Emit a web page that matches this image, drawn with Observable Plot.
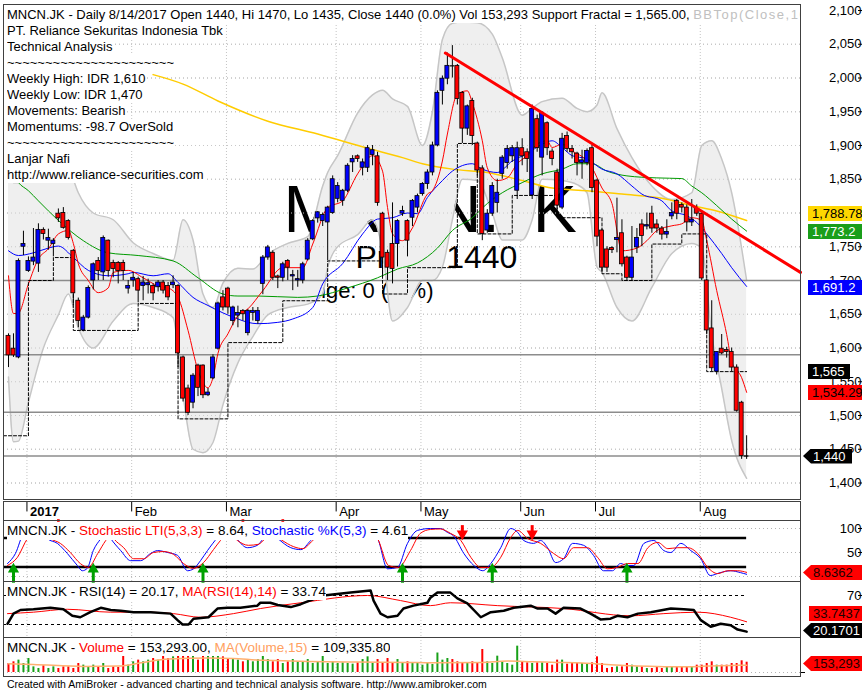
<!DOCTYPE html>
<html>
<head>
<meta charset="utf-8">
<script src="https://cdn.jsdelivr.net/npm/d3@7"></script>
<script src="https://cdn.jsdelivr.net/npm/@observablehq/plot@0.6"></script>
<style>
html,body{margin:0;padding:0;background:#fff;}
#wrap{position:relative;width:862px;height:693px;overflow:hidden;background:#fff;font-family:"Liberation Sans",Arial,Helvetica,sans-serif;color:#000;}
.t{position:absolute;left:7px;font-size:13px;line-height:16px;height:16px;background:#fff;white-space:nowrap;overflow:hidden;}
.tag{position:absolute;font-size:13px;line-height:15px;height:15px;white-space:nowrap;overflow:hidden;box-sizing:border-box;}
</style>
</head>
<body>
<div id="wrap"></div>
<script>
// ---------------- DATA ----------------
// bar index 0..148 : 27 Dec 2016 .. 14 Aug 2017 (daily)
const open  = [1618,1599,1586,1750,1714,1728,1725,1775,1759,1754,1799,1800,1788,1744,1670,1626,1645,1700,1729,1712,1759,1726,1726,1726,1688,1700,1702,1692,1693,1692,1690,1697,1692,1693,1692,1586,1540,1519,1574,1574,1530,1555,1599,1675,1688,1640,1648,1655,1622,1652,1640,1695,1734,1741,1706,1704,1729,1706,1700,1700,1731,1761,1792,1788,1786,1800,1821,1818,1833,1875,1884,1867,1867,1886,1884,1799,1741,1754,1754,1799,1788,1793,1808,1828,1843,1860,1900,1981,1999,2018,2018,1978,1925,1966,1903,1866,1774,1799,1815,1858,1874,1884,1833,1896,1890,1826,1939,1882,1933,1891,1860,1808,1914,1895,1888,1874,1874,1896,1848,1774,1746,1748,1760,1770,1734,1704,1749,1783,1780,1799,1783,1777,1768,1795,1818,1812,1808,1786,1806,1799,1700,1629,1565,1599,1597,1594,1571,1519,1440];
const high  = [1621,1621,1732,1773,1735,1777,1784,1778,1776,1762,1806,1808,1790,1746,1674,1648,1692,1726,1734,1766,1760,1730,1728,1730,1700,1712,1705,1706,1702,1695,1700,1700,1697,1707,1694,1588,1545,1562,1576,1575,1540,1590,1668,1685,1690,1662,1662,1657,1657,1660,1660,1737,1752,1744,1708,1727,1731,1715,1715,1727,1762,1790,1802,1800,1810,1855,1845,1835,1873,1885,1886,1880,1900,1900,1890,1801,1745,1815,1790,1810,1790,1820,1828,1845,1864,1905,1981,2003,2037,2048,2020,1980,1960,1970,1905,1870,1805,1845,1850,1885,1900,1900,1905,1910,1895,1960,1945,1950,1935,1895,1865,1918,1920,1900,1890,1893,1895,1900,1850,1776,1750,1750,1822,1790,1736,1780,1777,1790,1800,1810,1790,1780,1790,1815,1820,1815,1812,1820,1812,1803,1702,1670,1594,1620,1601,1600,1575,1521,1470];
const low   = [1571,1586,1584,1737,1712,1722,1712,1760,1745,1735,1786,1776,1760,1663,1630,1624,1643,1686,1700,1700,1705,1704,1695,1700,1680,1690,1667,1670,1680,1670,1683,1680,1670,1688,1571,1520,1500,1510,1528,1525,1528,1553,1597,1655,1650,1633,1630,1640,1618,1640,1635,1679,1730,1700,1688,1698,1700,1685,1690,1695,1729,1759,1785,1780,1729,1798,1815,1810,1830,1860,1875,1855,1860,1870,1810,1705,1700,1695,1720,1795,1735,1780,1800,1825,1835,1855,1898,1960,1990,2000,1960,1903,1915,1900,1855,1759,1770,1795,1800,1850,1865,1875,1820,1870,1860,1820,1890,1855,1885,1870,1805,1805,1890,1880,1855,1850,1870,1830,1750,1712,1712,1740,1741,1720,1700,1700,1740,1750,1775,1770,1770,1760,1762,1790,1790,1800,1772,1780,1795,1700,1620,1565,1560,1590,1585,1565,1505,1435,1435];
const close = [1589,1589,1729,1754,1729,1734,1775,1769,1763,1759,1792,1778,1763,1681,1640,1645,1689,1724,1714,1763,1714,1717,1714,1714,1692,1704,1685,1697,1696,1681,1697,1685,1675,1697,1592,1525,1504,1559,1541,1530,1534,1586,1666,1660,1660,1660,1652,1650,1655,1655,1655,1734,1749,1704,1704,1724,1719,1708,1702,1724,1759,1788,1801,1797,1808,1850,1840,1833,1870,1880,1880,1875,1896,1893,1815,1734,1719,1717,1788,1803,1759,1818,1825,1843,1860,1900,1978,1999,2018,2018,1969,1925,1958,1914,1863,1769,1799,1840,1830,1882,1895,1896,1896,1884,1880,1954,1896,1948,1896,1880,1811,1910,1895,1890,1874,1878,1892,1837,1765,1719,1719,1745,1763,1724,1704,1734,1763,1766,1782,1777,1777,1768,1772,1800,1799,1808,1786,1790,1799,1703,1626,1570,1594,1592,1594,1571,1507,1440,1440];
const volume = [134,159,184,134,208,84,60,100,60,84,60,84,84,60,134,110,84,110,84,134,60,84,75,240,
  109,159,184,159,184,208,184,243,208,233,243,258,273,258,184,243,258,258,243,233,208,193,184,159,193,159,193,243,193,159,193,134,159,193,159,159,193,134,159,258,134,159,134,144,134,124,144,193,233,134,193,134,208,134,193,134,159,134,144,109,134,120,
  290,184,208,193,159,144,134,159,134,342,159,134,243,159,134,109,392,159,144,134,144,144,134,109,184,184,124,144,134,134,134,144,233,134,60,75,84,84,134,109,84,84,60,60,84,60,84,84,84,84,84,84,109,109,134,159,109,109,109,134,134,174,153.293]; // thousands

const monthLabels = ["2017","Feb","Mar","Apr","May","Jun","Jul","Aug"];
const monthIdx    = [4,25,44,66,83,103,118,139];
const eventIdx    = [10,47,55];

const priceTicks = [1400,1450,1500,1550,1600,1650,1700,1750,1800,1850,1900,1950,2000,2050,2100];
const hLevels = [1700,1590,1505,1440];

const bbIdx   = [0,1,2,4,7,10,12,14,17,21,25,29,33,35,37,39,41,43,46,49,52,56,60,63,64,66,70,73,75,77,80,83,85,87,89,91,94,97,99,103,105,107,111,114,116,118,119,122,125,129,133,137,139,141,143,145,148];
const bbUpper = [1857,1845,1845,1870,1880,1889,1870,1830,1800,1790,1756,1740,1730,1790,1760,1680,1660,1696,1718,1717,1739,1755,1765,1840,1860,1885,1948,1975,1982,1969,1958,1900,1950,2057,2081,2083,2082,2065,2030,1945,1955,1965,1970,1955,1950,1960,1978,1925,1882,1840,1820,1830,1900,1907,1880,1830,1700];
const bbLower = [1557,1461,1462,1520,1600,1649,1680,1630,1600,1640,1666,1660,1645,1530,1450,1445,1460,1516,1578,1617,1649,1660,1665,1680,1720,1750,1768,1790,1745,1640,1660,1700,1700,1720,1790,1850,1848,1800,1760,1760,1790,1850,1848,1842,1830,1720,1712,1660,1640,1690,1740,1755,1748,1620,1540,1463,1407];

const maRedIdx = [0,1,2,4,6,8,10,12,13,14,16,18,20,21,24,27,30,32,34,36,38,40,41,42,44,46,48,51,55,59,61,64,67,70,73,75,76,77,79,81,84,85,87,88,90,92,93,95,96,98,100,102,104,106,108,109,111,113,116,117,119,121,123,126,128,130,133,135,137,139,140,142,144,145,147,148];
const maRedVal = [1707,1651,1652,1695,1732,1747,1769,1774,1755,1725,1700,1682,1689,1712,1715,1704,1692,1689,1675,1626,1567,1541,1556,1592,1621,1648,1658,1685,1719,1719,1754,1808,1818,1858,1885,1862,1808,1769,1759,1778,1828,1833,1877,1917,1976,1981,1963,1907,1867,1848,1852,1873,1885,1902,1907,1897,1902,1892,1877,1867,1837,1814,1744,1748,1759,1774,1781,1784,1793,1789,1759,1685,1620,1580,1556,1534.29];
const maBlueIdx = [0,2,5,8,10,13,16,20,24,25,29,32,34,37,40,43,46,48,50,54,57,61,63,67,71,74,77,80,82,84,87,89,93,95,98,101,104,107,109,111,113,116,119,122,125,127,131,133,136,138,140,143,145,148];
const maBlueVal = [1744,1737,1741,1748,1751,1734,1715,1707,1710,1712,1707,1710,1697,1675,1663,1652,1643,1638,1636,1638,1643,1660,1695,1725,1769,1791,1793,1800,1799,1823,1848,1862,1873,1865,1860,1877,1888,1902,1907,1897,1885,1880,1865,1858,1840,1828,1818,1803,1796,1786,1769,1740,1719,1691.2];
const maGreenIdx = [0,2,4,6,10,15,20,26,33,38,43,46,50,58,62,68,74,78,82,86,89,93,96,99,103,107,111,114,117,120,124,130,135,137,139,142,145,148];
const maGreenVal = [1870,1845,1833,1818,1789,1759,1741,1737,1729,1704,1680,1677,1677,1675,1677,1689,1704,1717,1726,1748,1774,1793,1814,1830,1845,1858,1865,1873,1873,1862,1855,1852,1851,1840,1830,1811,1791,1773.2];
const maYellowIdx = [29,35,42,52,62,72,79,83,89,96,103,109,116,123,131,137,142,148];
const maYellowVal = [2005,1991,1966,1936,1917,1896,1882,1873,1865,1860,1848,1837,1833,1828,1822,1811,1803,1788.78];

const fracIdx = [-1,4,9,13,26,34,44,55,64,75,80,90,94,101,110,119,123,129,135,140,148];
const fracVal = [1470,1700,1734,1626,1666,1495,1608,1670,1729,1680,1719,1903,1769,1826,1793,1710,1700,1754,1769,1565,1565];

const trendIdx = [87.6,158.8];
const trendVal = [2037,1712];

const stochKIdx = [-0.2,1.4,3,4.4,6.4,7.8,9.8,11.8,13.8,14.8,15.8,17,18.5,19.5,20.5,22.5,24.5,26.5,28.5,29.9,31.9,33.9,35.9,37.1,38.5,39.9,41.9,43.5,44.9,45.9,47.9,49.9,51.1,52.5,54,56.6,58.6,60.6,62.2,64.6,68.6,71.6,74,76,78,80,82,84.6,86.6,88,89.2,91.3,93.3,95.1,96.7,98.7,100.7,102.1,103.3,105.3,106.7,108.1,109.7,111.3,113.1,115.3,117.3,119.3,121.1,122.7,124.1,125.4,127.4,129.4,131.4,132.8,134.8,136.8,138.8,140.7,142.7,144.8,146.8,148];
const stochKVal = [27,48,90,100,98,79,69,48,23,12,17,54,79,95,79,54,33,33,48,54,50,44,12,16,33,54,81,98,90,77,60,65,79,92,79,60,56,75,92,100,100,98,79,16,19,69,96,100,100,92,85,48,23,12,27,60,100,92,75,69,75,60,29,37,69,65,44,12,12,27,23,23,69,75,54,50,69,54,37,2,8,12,8,4.61];
const stochLIdx = [-0.2,1.8,3.8,5.4,7,8.4,10.4,12.4,14.4,16,17.9,19.5,20.5,21.1,23.1,25.1,27.1,29.1,31.1,33.1,35.1,37.1,39.1,41.1,42.5,44.1,45.9,48.1,50.1,51.5,53,54.6,57.2,59,61,62.6,65.6,70.6,73,74,76.2,78.2,80.6,82.6,84.6,86.6,88.6,90.7,92.7,94.7,96.7,98.7,100.7,102.1,104.1,106.7,109.3,111.3,113.3,116.1,118.1,120.1,122.1,124.1,126.2,128.2,130.2,132.2,134.2,136.2,138.2,140.2,142.2,144.2,146.2,148];
const stochLVal = [23,40,79,95,92,79,69,50,27,19,48,75,88,79,60,37,37,50,52,46,27,17,29,56,75,92,75,65,67,79,88,77,62,58,75,90,99,99,92,79,23,19,54,90,98,99,90,75,40,19,19,40,81,96,79,69,48,37,60,60,40,16,19,27,27,60,71,58,60,60,48,19,6,12,12,8.64];
const buyIdx  = [1,17,39,79,97,124];
const sellIdx = [91,105];

const rsiIdx = [-0.2,1,2.4,5,8.4,11,12.8,14.4,16.4,18.5,20.5,22.5,25.1,28.5,32.5,33.9,34.9,36.1,37.1,40.1,41.9,43.9,46.5,49.9,50.5,52.5,54,56.6,58.6,60,63.2,68.6,72.6,73.2,74.6,76,78,79.2,81.2,84,84.6,86,88.6,90,92,94.7,96.7,99.3,101.3,104.7,106.1,108.1,109.7,111.3,114.7,116.7,118.7,120.7,122.1,124.1,126.2,128.8,132.8,135.4,137.4,138.8,140.8,142.8,144.8,146.2,148];
const rsiVal = [31,45,50,51,53,51,42,40,47,53,50,49,47,47,45,36,30,30,38,40,52,53,53,56,60,60,57,54,58,62,70,74,77,63,45,40,42,52,56,60,67,74,74,66,59,40,47,49,53,56,52,52,45,53,52,45,37,38,42,40,45,47,52,51,50,36,27,31,29,23,20.17];
const rsiMAIdx = [-0.2,5,11.8,20.5,28.5,33.1,38.5,45.1,50.5,58.6,72,78.6,84.6,88.6,98.1,111.3,124.7,131.4,138.2,144.8,148];
const rsiMAVal = [45,47,51,47,47,45,40,45,52,60,70,63,56,60,56,52,42,45,47,40,33.74];

const volMAIdx = [0,5,15,22,27,32,40,45,50,55,60,70,80,85,95,100,105,110,115,120,125,130,135,140,145,148];
const volMAVal = [130,120,90,95,150,200,215,210,185,175,165,155,150,145,150,170,160,150,140,120,100,90,85,95,105,109.3];

// ---------------- DRAWING ----------------
const wrap = document.getElementById("wrap");
const FONT = '"Liberation Sans", Arial, Helvetica, sans-serif';
const xOpt = () => ({domain: [-1, 158.8], range: [3, 800], axis: null});
const baseStyle = {fontFamily: FONT, fontSize: "13px", background: "transparent", color: "#000", overflow: "visible"};
function place(svg, top) { svg.style.position = "absolute"; svg.style.top = top + "px"; svg.style.left = "0px"; wrap.appendChild(svg); }
const pts = (idx, vals) => idx.map((x, k) => ({x, y: vals[k]}));

const bars = open.map((o, i) => ({i, o, h: high[i], l: low[i], c: close[i], v: volume[i]}));
const bodies = bars.filter(d => d.c !== d.o);
const dojis = bars.filter(d => d.c === d.o);
const bb = bbIdx.map((x, k) => ({x, lo: bbLower[k], hi: bbUpper[k]}));
const months = monthIdx.map((x, k) => ({x: x - 0.3, label: monthLabels[k]}));
const monthGrid = () => Plot.ruleX(months, {x: "x", stroke: "#c4c4c4", strokeDasharray: "1,2"});
const rightAxis = (ticks) => Plot.axisY(ticks, {anchor: "right", label: null, tickSize: 4, tickPadding: 0, textAnchor: "end", dx: 57, stroke: "#000"});

// main price panel
place(Plot.plot({
  width: 862, height: 500, marginTop: 4, marginBottom: 1, marginLeft: 3, marginRight: 62,
  x: xOpt(), y: {domain: [1400, 2100], range: [482.5, 10], axis: null},
  style: baseStyle,
  marks: [
    Plot.ruleY(priceTicks, {stroke: "#b4b4b4", strokeDasharray: "1,3"}),
    monthGrid(),
    Plot.text(["MNCN.JK"], {text: d => d, frameAnchor: "top-left", dx: 280, dy: 206, fontSize: 66, textAnchor: "start", lineAnchor: "middle", fill: "#000"}),
    Plot.text(["Price: 1440"], {text: d => d, frameAnchor: "top-left", dx: 352, dy: 253, fontSize: 32, textAnchor: "start", lineAnchor: "middle", fill: "#000"}),
    Plot.text(["Change: 0 (0 %)"], {text: d => d, frameAnchor: "top-left", dx: 430, dy: 286, fontSize: 22, textAnchor: "end", lineAnchor: "middle", fill: "#000"}),
    Plot.areaY(bb, {x: "x", y1: "lo", y2: "hi", fill: "#efefef", curve: "monotone-x"}),
    Plot.lineY(bb, {x: "x", y: "hi", stroke: "#c6c6c6", curve: "monotone-x"}),
    Plot.lineY(bb, {x: "x", y: "lo", stroke: "#c6c6c6", curve: "monotone-x"}),
    Plot.ruleY(priceTicks, {stroke: "#c8c8c8", strokeDasharray: "1,3"}),
    Plot.ruleY(hLevels, {stroke: "#8c8c8c", strokeWidth: 1.5}),
    Plot.line(pts(maYellowIdx, maYellowVal), {x: "x", y: "y", stroke: "#ffcc00", strokeWidth: 1.5, curve: "monotone-x"}),
    Plot.line(pts(maGreenIdx, maGreenVal), {x: "x", y: "y", stroke: "#009a00", strokeWidth: 1, curve: "monotone-x"}),
    Plot.line(pts(maBlueIdx, maBlueVal), {x: "x", y: "y", stroke: "#0000ff", strokeWidth: 1, curve: "monotone-x"}),
    Plot.line(pts(maRedIdx, maRedVal), {x: "x", y: "y", stroke: "#ff0000", strokeWidth: 1, curve: "monotone-x"}),
    Plot.line(pts(fracIdx, fracVal), {x: "x", y: "y", curve: "step-after", stroke: "#000", strokeWidth: 1, strokeDasharray: "3,2"}),
    Plot.ruleX(bars, {x: "i", y1: "l", y2: "h", stroke: "#000", strokeWidth: 1}),
    Plot.rect(bodies, {x1: d => d.i - 0.4, x2: d => d.i + 0.4, y1: "o", y2: "c", fill: d => d.c > d.o ? "#0000ff" : "#ff0000", stroke: "#000", strokeWidth: 0.8}),
    Plot.ruleY(dojis, {y: "o", x1: d => d.i - 0.45, x2: d => d.i + 0.45, stroke: "#000", strokeWidth: 1.2}),
    Plot.line(pts(trendIdx, trendVal), {x: "x", y: "y", stroke: "#ff0000", strokeWidth: 3}),
    rightAxis(priceTicks),
    Plot.frame({stroke: "#404040"})
  ]
}), 0);

// date strip
place(Plot.plot({
  width: 862, height: 21, marginTop: 1, marginBottom: 1, marginLeft: 3, marginRight: 62,
  x: xOpt(), y: {domain: [0, 1], range: [1, 20], axis: null},
  style: baseStyle,
  marks: [
    Plot.ruleX(months, {x: "x", y1: 0, y2: 0.55, stroke: "#000"}),
    Plot.text(months.slice(1), {x: "x", y: 0.55, text: "label", textAnchor: "start", dx: 3, lineAnchor: "middle"}),
    Plot.text(months.slice(0, 1), {x: "x", y: 0.55, text: "label", textAnchor: "start", dx: 3, lineAnchor: "middle", fontWeight: "bold"}),
    Plot.dot(eventIdx, {x: d => d, y: 1.0, symbol: "square", r: 1.5, fill: "#ff0000"}),
    Plot.frame({stroke: "#404040"})
  ]
}), 500);

// stochastic panel
place(Plot.plot({
  width: 862, height: 61, marginTop: 0, marginBottom: 0, marginLeft: 3, marginRight: 62,
  x: xOpt(), y: {domain: [0, 100], range: [56, 8], axis: null},
  style: baseStyle,
  marks: [
    Plot.ruleY([0, 50, 100], {stroke: "#b4b4b4", strokeDasharray: "1,3"}),
    monthGrid(),
    Plot.ruleY([20, 80], {x1: -1, x2: 148, stroke: "#000", strokeWidth: 2.5}),
    Plot.line(pts(stochKIdx, stochKVal), {x: "x", y: "y", stroke: "#0000ff", strokeWidth: 1, curve: "monotone-x"}),
    Plot.line(pts(stochLIdx, stochLVal), {x: "x", y: "y", stroke: "#ff0000", strokeWidth: 1, curve: "monotone-x"}),
    Plot.ruleX(buyIdx, {x: d => d, y1: -14, y2: 10, stroke: "#00a000", strokeWidth: 3}),
    Plot.dot(buyIdx, {x: d => d, y: 15, symbol: "triangle", r: 3.2, fill: "#00a000", stroke: "#00a000"}),
    Plot.ruleX(sellIdx, {x: d => d, y1: 106, y2: 88, stroke: "#ff0000", strokeWidth: 3}),
    Plot.dot(sellIdx, {x: d => d, y: 89, symbol: "triangle", rotate: 180, r: 3.2, fill: "#ff0000", stroke: "#ff0000"}),
    rightAxis([50, 100]),
    Plot.frame({stroke: "#404040"})
  ]
}), 520);

// RSI panel
place(Plot.plot({
  width: 862, height: 56, marginTop: 0, marginBottom: 0, marginLeft: 3, marginRight: 62,
  x: xOpt(), y: {domain: [30, 70], range: [43, 14], axis: null},
  style: baseStyle,
  marks: [
    monthGrid(),
    Plot.ruleY([70, 30], {x1: -1, x2: 148, stroke: "#000", strokeDasharray: "3,3"}),
    Plot.line(pts(rsiMAIdx, rsiMAVal), {x: "x", y: "y", stroke: "#ff0000", strokeWidth: 1, curve: "monotone-x"}),
    Plot.line(pts(rsiIdx, rsiVal), {x: "x", y: "y", stroke: "#000", strokeWidth: 2.5}),
    rightAxis([70]),
    Plot.frame({stroke: "#404040"})
  ]
}), 581);

// volume panel
place(Plot.plot({
  width: 862, height: 39, marginTop: 0, marginBottom: 0, marginLeft: 3, marginRight: 62,
  x: xOpt(), y: {domain: [0, 500], range: [35, 1.4], axis: null},
  style: baseStyle,
  marks: [
    monthGrid(),
    Plot.ruleY([0], {stroke: "#b4b4b4", strokeDasharray: "1,3"}),
    Plot.ruleX(bars, {x: "i", y1: 0, y2: "v", stroke: d => d.c > d.o ? "#18a018" : "#ff0000", strokeWidth: 2}),
    Plot.line(pts(volMAIdx, volMAVal), {x: "x", y: "y", stroke: "#ffb070", strokeWidth: 1.5, curve: "monotone-x"}),
    Plot.axisY([0], {anchor: "right", label: null, tickSize: 4, tickFormat: () => ""}),
    Plot.frame({stroke: "#404040"})
  ]
}), 637);

// ---------------- TEXT OVERLAYS ----------------
function addText(html, top, extra) {
  const d = document.createElement("div");
  d.className = "t";
  d.innerHTML = html;
  d.style.top = top + "px";
  if (extra) Object.assign(d.style, extra);
  wrap.appendChild(d);
}
addText('MNCN.JK - Daily 8/14/2017 Open 1440, Hi 1470, Lo 1435, Close 1440 (0.0%) Vol 153,293 Support Fractal = 1,565.00, <span style="color:#c0c0c0;letter-spacing:1.5px">BBTop(Close,10,2) = 1,714.1</span>', 6.5, {width: "793px"});
const infoLines = ["PT. Reliance Sekuritas Indonesia Tbk", "Technical Analysis", "~~~~~~~~~~~~~~~~~~~~~~", "Weekly High: IDR 1,610", "Weekly Low: IDR 1,470", "Movements: Bearish", "Momentums: -98.7 OverSold", "~~~~~~~~~~~~~~~~~~~~~~", "Lanjar Nafi", "http://www.reliance-securities.com"];
infoLines.forEach((s, k) => addText(s, 22.5 + 16 * k));
const sub = {fontSize: "13.5px"};
addText('MNCN.JK - <span style="color:#ff0000">Stochastic LTI(5,3,3)</span> = 8.64, <span style="color:#0000ff">Stochastic %K(5,3)</span> = 4.61', 522.5, {fontSize: "13.5px", height: "17px"});
addText('MNCN.JK - RSI(14) = 20.17, <span style="color:#ff0000">MA(RSI(14),14)</span> = 33.74', 584, sub);
addText('MNCN.JK - <span style="color:#ff0000">Volume</span> = 153,293.00, <span style="color:#ffa060">MA(Volume,15)</span> = 109,335.80', 639.5, sub);
addText('Created with AmiBroker - advanced charting and technical analysis software. http://www.amibroker.com', 678, {fontSize: "10.5px", lineHeight: "13px", height: "13px", background: "transparent"});

function addTag(text, top, left, width, bg, fg, arrow) {
  const d = document.createElement("div");
  d.className = "tag";
  d.textContent = text;
  Object.assign(d.style, {top: top + "px", left: left + "px", width: width + "px", background: bg, color: fg, paddingLeft: (arrow ? 10 : 4) + "px"});
  if (arrow) d.style.clipPath = "polygon(0 50%, 8px 0, 100% 0, 100% 100%, 8px 100%)";
  wrap.appendChild(d);
}
addTag("1,788.78", 206, 808, 60, "#ffd700", "#000");
addTag("1,773.2", 224, 808, 60, "#1a9e1a", "#fff");
addTag("1,691.2", 280, 808, 60, "#0000ff", "#fff");
addTag("1,565", 363.5, 808, 42, "#000", "#fff");
addTag("1,534.29", 384.5, 808, 60, "#ff0000", "#000");
addTag("1,440", 448.5, 803, 49, "#000", "#fff", true);
addTag("8.6362", 565, 803, 62, "#ff0000", "#200", true);
addTag("33.7437", 605.5, 809, 60, "#ff0000", "#200");
addTag("20.1701", 623, 803, 62, "#000", "#fff", true);
addTag("153,293", 656, 803, 62, "#ff0000", "#200", true);
</script>
</body>
</html>
